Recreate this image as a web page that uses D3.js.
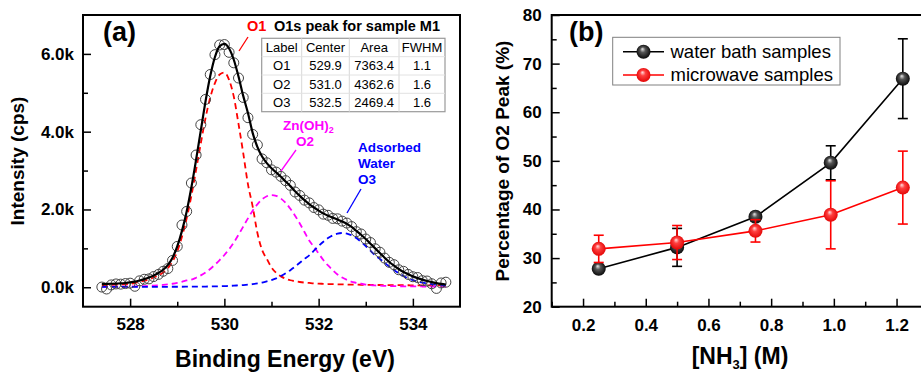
<!DOCTYPE html>
<html>
<head>
<meta charset="utf-8">
<script src="https://cdn.jsdelivr.net/npm/d3@7"></script>
<style>
  html, body { margin: 0; padding: 0; background: #fff; }
  svg { display: block; font-family: "Liberation Sans", Arial, sans-serif; }
  .tick text { font-weight: bold; font-size: 17px; fill: #000; }
</style>
</head>
<body>
<svg id="chart" width="921" height="373"></svg>
<script>
// ---------- Panel (a): O1s XPS spectrum ----------
const energy = [527.4,527.5,527.6,527.7,527.8,527.9,528.0,528.1,528.2,528.3,528.4,528.5,528.6,528.7,528.8,528.9,
  529.0,529.1,529.2,529.3,529.4,529.5,529.6,529.7,529.8,529.9,530.0,530.1,530.2,530.3,530.4,530.5,530.6,530.7,530.8,530.9,
  531.0,531.1,531.2,531.3,531.4,531.5,531.6,531.7,531.8,531.9,532.0,532.1,532.2,532.3,532.4,532.5,532.6,532.7,532.8,532.9,
  533.0,533.1,533.2,533.3,533.4,533.5,533.6,533.7,533.8,533.9,534.0,534.1,534.2,534.3,534.4,534.5,534.6,534.7];

// measured counts (open circles)
const measured = [5,-45,60,85,80,95,105,25,165,205,215,275,330,410,480,690,
  1050,1600,1950,2680,3400,4180,4830,5470,5980,6230,6240,6040,5770,5380,4880,4360,3930,3660,3300,3200,
  3020,2960,2850,2740,2620,2450,2360,2240,2170,2050,1990,1880,1850,1770,1760,1700,1650,1560,1430,1370,
  1240,1150,990,900,750,640,580,450,410,330,270,250,170,160,90,-30,110,130];

// cumulative fit (solid black)
const fitSum = [80,85,90,95,100,110,125,145,175,210,250,300,365,450,570,760,
  1050,1450,1950,2570,3280,4030,4780,5430,5920,6200,6260,6140,5850,5420,4920,4480,3970,3610,3360,3190,
  3060,2950,2840,2720,2600,2470,2350,2240,2140,2050,1970,1900,1840,1790,1740,1690,1630,1550,1450,1350,
  1240,1120,1000,880,760,650,555,470,395,335,280,235,195,160,130,105,85,70];

// fitted components
const peakO1 = [55,58,62,66,70,78,90,108,135,168,205,250,305,380,490,660,
  920,1300,1770,2350,3020,3700,4350,4880,5250,5470,5520,5330,4900,4200,3450,2650,2080,1400,960,730,
  510,370,280,220,180,155,135,120,110,100,93,88,83,79,76,73,70,68,66,64,
  62,60,59,58,56,55,54,53,52,51,50,49,48,48,47,46,46,45];
const peakO2 = [12,13,14,15,17,19,21,24,27,31,36,42,50,60,73,90,
  112,140,175,195,245,305,380,470,580,700,830,980,1150,1350,1560,1770,1970,2130,2260,2340,
  2370,2350,2280,2170,2020,1840,1640,1420,1200,1040,870,700,560,440,330,250,190,140,115,90,
  70,56,46,40,36,32,29,27,25,24,22,21,20,20,19,19,18,18];
const peakO3 = [10,10,10,10,10,10,10,11,11,11,11,12,12,12,12,13,
  13,13,14,14,15,16,18,20,23,26,30,33,42,48,56,66,80,97,120,150,
  185,230,290,360,440,530,630,730,820,940,1060,1170,1265,1335,1380,1395,1380,1335,1265,1170,
  1060,940,820,730,630,530,440,360,290,230,185,150,120,97,80,66,56,48];

const tableHead = ["Label", "Center", "Area", "FWHM"];
const tableRows = [["O1", "529.9", "7363.4", "1.1"],
                   ["O2", "531.0", "4362.6", "1.6"],
                   ["O3", "532.5", "2469.4", "1.6"]];

const energyTicks = [528, 530, 532, 534];
const intensityTicks = [0, 2000, 4000, 6000];

// ---------- Panel (b): O2 fraction vs NH3 concentration ----------
const nh3 = [0.25, 0.5, 0.75, 0.99, 1.22];
const waterBath = [27.8, 32.2, 38.5, 49.6, 66.9];
const waterBathErr = [0, 3.9, 0.8, 3.5, 8.2];
const microwave = [31.9, 33.2, 35.6, 38.9, 44.5];
const microwaveErr = [2.8, 3.5, 2.3, 7.0, 7.5];
const seriesNames = ["water bath samples", "microwave samples"];

const nh3Ticks = [0.2, 0.4, 0.6, 0.8, 1.0, 1.2];
const pctTicks = [20, 30, 40, 50, 60, 70, 80];

const svg = d3.select("#chart");

// sphere-like marker fills
const defs = svg.append("defs");
function sphere(id, hi, mid, edge) {
  const g = defs.append("radialGradient").attr("id", id)
    .attr("cx", "50%").attr("cy", "50%").attr("r", "55%")
    .attr("fx", "42%").attr("fy", "30%");
  g.append("stop").attr("offset", "0%").attr("stop-color", hi);
  g.append("stop").attr("offset", "35%").attr("stop-color", mid);
  g.append("stop").attr("offset", "100%").attr("stop-color", edge);
}
sphere("ballBlack", "#e8e8e8", "#555", "#000");
sphere("ballRed", "#ffe0e0", "#ff4040", "#e00000");

// ===== Panel (a) =====
const A = {left: 83, right: 460, top: 15, bottom: 306.7};
const xA = d3.scaleLinear().domain([527, 535]).range([A.left, A.right]);
const yA = d3.scaleLinear().domain([-500, 7000]).range([A.bottom, A.top]);

const gA = svg.append("g");

// minor ticks
gA.append("g").attr("transform", `translate(0,${A.bottom})`)
  .call(d3.axisBottom(xA).tickValues([529, 531, 533]).tickSize(-5).tickFormat(""))
  .call(g => g.select(".domain").remove())
  .call(g => g.selectAll("line").attr("stroke-width", 1.5));
gA.append("g").attr("transform", `translate(${A.left},0)`)
  .call(d3.axisLeft(yA).tickValues([1000, 3000, 5000]).tickSize(-5).tickFormat(""))
  .call(g => g.select(".domain").remove())
  .call(g => g.selectAll("line").attr("stroke-width", 1.5));

// major ticks
gA.append("g").attr("transform", `translate(0,${A.bottom})`)
  .call(d3.axisBottom(xA).tickValues(energyTicks).tickSize(-8).tickPadding(11).tickFormat(d3.format("d")))
  .call(g => g.select(".domain").remove())
  .call(g => g.selectAll("line").attr("stroke-width", 1.5));
gA.append("g").attr("transform", `translate(${A.left},0)`)
  .call(d3.axisLeft(yA).tickValues(intensityTicks).tickSize(-8).tickPadding(9)
        .tickFormat(d => (d / 1000).toFixed(1) + "k"))
  .call(g => g.select(".domain").remove())
  .call(g => g.selectAll("line").attr("stroke-width", 1.5));

const clipA = defs.append("clipPath").attr("id", "clipA");
clipA.append("rect").attr("x", A.left).attr("y", A.top)
  .attr("width", A.right - A.left).attr("height", A.bottom - A.top);

const plotA = gA.append("g").attr("clip-path", "url(#clipA)");
const lineA = arr => d3.line().x((d, i) => xA(energy[i])).y(d => yA(d)).curve(d3.curveMonotoneX)(arr);

plotA.append("path").attr("d", lineA(peakO1)).attr("fill", "none")
  .attr("stroke", "#ff0000").attr("stroke-width", 1.8).attr("stroke-dasharray", "6,4");
plotA.append("path").attr("d", lineA(peakO2)).attr("fill", "none")
  .attr("stroke", "#ff00ff").attr("stroke-width", 1.8).attr("stroke-dasharray", "6,4");
plotA.append("path").attr("d", lineA(peakO3)).attr("fill", "none")
  .attr("stroke", "#0000ff").attr("stroke-width", 1.8).attr("stroke-dasharray", "6,4");

plotA.selectAll("circle.pt").data(measured).enter().append("circle")
  .attr("class", "pt")
  .attr("cx", (d, i) => xA(energy[i])).attr("cy", d => yA(d)).attr("r", 5)
  .attr("fill", "none").attr("stroke", "#444").attr("stroke-width", 1);

plotA.append("path").attr("d", lineA(fitSum)).attr("fill", "none")
  .attr("stroke", "#000").attr("stroke-width", 2.2);

// frame
gA.append("rect").attr("x", A.left).attr("y", A.top)
  .attr("width", A.right - A.left).attr("height", A.bottom - A.top)
  .attr("fill", "none").attr("stroke", "#000").attr("stroke-width", 2);

// panel label and axis titles
gA.append("text").attr("x", 103).attr("y", 41).text("(a)")
  .attr("font-size", 27).attr("font-weight", "bold");
gA.append("text").attr("x", 285).attr("y", 367).attr("text-anchor", "middle")
  .attr("font-size", 23).attr("font-weight", "bold").text("Binding Energy (eV)");
gA.append("text").attr("transform", "translate(24,161) rotate(-90)").attr("text-anchor", "middle")
  .attr("font-size", 19).attr("font-weight", "bold").text("Intensity (cps)");

// title and O1 annotation
gA.append("text").attr("x", 274).attr("y", 31).attr("font-size", 14.5).attr("font-weight", "bold")
  .text("O1s peak for sample M1");
gA.append("text").attr("x", 247).attr("y", 31).attr("font-size", 14.5).attr("font-weight", "bold")
  .attr("fill", "#ff0000").text("O1");
gA.append("line").attr("x1", 248).attr("y1", 37).attr("x2", 239).attr("y2", 51)
  .attr("stroke", "#ff0000").attr("stroke-width", 1.3);

// O2 annotation
const zn = gA.append("text").attr("x", 283).attr("y", 130).attr("font-size", 13.5)
  .attr("font-weight", "bold").attr("fill", "#ff00ff");
zn.append("tspan").text("Zn(OH)");
zn.append("tspan").attr("font-size", 9).attr("dy", 3).text("2");
gA.append("text").attr("x", 305).attr("y", 146).attr("text-anchor", "middle").attr("font-size", 13.5)
  .attr("font-weight", "bold").attr("fill", "#ff00ff").text("O2");
gA.append("line").attr("x1", 296).attr("y1", 150).attr("x2", 281).attr("y2", 171)
  .attr("stroke", "#ff00ff").attr("stroke-width", 1.3);

// O3 annotation
["Adsorbed", "Water", "O3"].forEach((t, i) => {
  gA.append("text").attr("x", 358).attr("y", 152 + i * 16).attr("font-size", 13.5)
    .attr("font-weight", "bold").attr("fill", "#0000ff").text(t);
});
gA.append("line").attr("x1", 361).attr("y1", 189).attr("x2", 347).attr("y2", 213)
  .attr("stroke", "#0000ff").attr("stroke-width", 1.3);

// parameter table
const colEdges = [261.7, 301.7, 349.3, 399, 445];
const rowEdges = [38.3, 56.7, 75, 93.3, 111.7];
const tbl = gA.append("g");
tbl.append("rect").attr("x", colEdges[0]).attr("y", rowEdges[0])
  .attr("width", colEdges[4] - colEdges[0]).attr("height", rowEdges[4] - rowEdges[0])
  .attr("fill", "#fff").attr("stroke", "#9a9a9a").attr("stroke-width", 1.2);
colEdges.slice(1, 4).forEach(x => tbl.append("line").attr("x1", x).attr("x2", x)
  .attr("y1", rowEdges[0]).attr("y2", rowEdges[4]).attr("stroke", "#d8d8d8"));
rowEdges.slice(1, 4).forEach(y => tbl.append("line").attr("y1", y).attr("y2", y)
  .attr("x1", colEdges[0]).attr("x2", colEdges[4]).attr("stroke", "#e2e2e2"));
[tableHead].concat(tableRows).forEach((row, r) => {
  row.forEach((cell, c) => {
    tbl.append("text").attr("x", (colEdges[c] + colEdges[c + 1]) / 2)
      .attr("y", (rowEdges[r] + rowEdges[r + 1]) / 2 + 4.6)
      .attr("text-anchor", "middle").attr("font-size", 13).text(cell);
  });
});

// ===== Panel (b) =====
const B = {left: 551.7, right: 927.9, top: 15, bottom: 306.7};
const xB = d3.scaleLinear().domain([0.1, 1.3]).range([B.left, B.right]);
const yB = d3.scaleLinear().domain([20, 80]).range([B.bottom, B.top]);
const gB = svg.append("g");

gB.append("g").attr("transform", `translate(0,${B.bottom})`)
  .call(d3.axisBottom(xB).tickValues([0.1, 0.3, 0.5, 0.7, 0.9, 1.1]).tickSize(-5).tickFormat(""))
  .call(g => g.select(".domain").remove())
  .call(g => g.selectAll("line").attr("stroke-width", 1.5));
gB.append("g").attr("transform", `translate(${B.left},0)`)
  .call(d3.axisLeft(yB).tickValues([25, 35, 45, 55, 65, 75]).tickSize(-5).tickFormat(""))
  .call(g => g.select(".domain").remove())
  .call(g => g.selectAll("line").attr("stroke-width", 1.5));
gB.append("g").attr("transform", `translate(0,${B.bottom})`)
  .call(d3.axisBottom(xB).tickValues(nh3Ticks).tickSize(-8).tickPadding(12).tickFormat(d3.format(".1f")))
  .call(g => g.select(".domain").remove())
  .call(g => g.selectAll("line").attr("stroke-width", 1.5));
gB.append("g").attr("transform", `translate(${B.left},0)`)
  .call(d3.axisLeft(yB).tickValues(pctTicks).tickSize(-8).tickPadding(10).tickFormat(d3.format("d")))
  .call(g => g.select(".domain").remove())
  .call(g => g.selectAll("line").attr("stroke-width", 1.5));

gB.append("rect").attr("x", B.left).attr("y", B.top)
  .attr("width", B.right - B.left).attr("height", B.bottom - B.top)
  .attr("fill", "none").attr("stroke", "#000").attr("stroke-width", 2);

function drawSeries(vals, errs, color, ball) {
  const g = gB.append("g");
  g.append("path").attr("fill", "none").attr("stroke", color).attr("stroke-width", 1.6)
    .attr("d", d3.line().x((d, i) => xB(nh3[i])).y(d => yB(d))(vals));
  vals.forEach((v, i) => {
    if (errs[i] <= 0) return;
    const x = xB(nh3[i]), y1 = yB(v - errs[i]), y2 = yB(v + errs[i]);
    g.append("line").attr("x1", x).attr("x2", x).attr("y1", y1).attr("y2", y2)
      .attr("stroke", color).attr("stroke-width", 1.6);
    [y1, y2].forEach(y => g.append("line").attr("x1", x - 5).attr("x2", x + 5)
      .attr("y1", y).attr("y2", y).attr("stroke", color).attr("stroke-width", 1.6));
  });
  g.selectAll("circle").data(vals).enter().append("circle")
    .attr("cx", (d, i) => xB(nh3[i])).attr("cy", d => yB(d)).attr("r", 7)
    .attr("fill", `url(#${ball})`);
}
drawSeries(waterBath, waterBathErr, "#000", "ballBlack");
drawSeries(microwave, microwaveErr, "#ff0000", "ballRed");

// legend
const leg = gB.append("g");
leg.append("rect").attr("x", 612.7).attr("y", 37.3).attr("width", 227.3).attr("height", 47.7)
  .attr("fill", "#fff").attr("stroke", "#808080").attr("stroke-width", 1);
[["#000", "ballBlack"], ["#ff0000", "ballRed"]].forEach((s, i) => {
  const y = 51.7 + i * 23.3;
  leg.append("line").attr("x1", 623).attr("x2", 664).attr("y1", y).attr("y2", y)
    .attr("stroke", s[0]).attr("stroke-width", 1.6);
  leg.append("circle").attr("cx", 643.5).attr("cy", y).attr("r", 7).attr("fill", `url(#${s[1]})`);
  leg.append("text").attr("x", 670.5).attr("y", y + 6.3).attr("font-size", 18.5).text(seriesNames[i]);
});

gB.append("text").attr("x", 569).attr("y", 41).text("(b)")
  .attr("font-size", 27).attr("font-weight", "bold");
const nt = gB.append("text").attr("x", 740).attr("y", 364).attr("text-anchor", "middle")
  .attr("font-size", 23).attr("font-weight", "bold");
nt.append("tspan").text("[NH");
nt.append("tspan").attr("font-size", 13).attr("dy", 5).text("3");
nt.append("tspan").attr("dy", -5).text("] (M)");
gB.append("text").attr("transform", "translate(509,161) rotate(-90)").attr("text-anchor", "middle")
  .attr("font-size", 19).attr("font-weight", "bold").text("Percentage of O2 Peak (%)");
</script>
</body>
</html>
